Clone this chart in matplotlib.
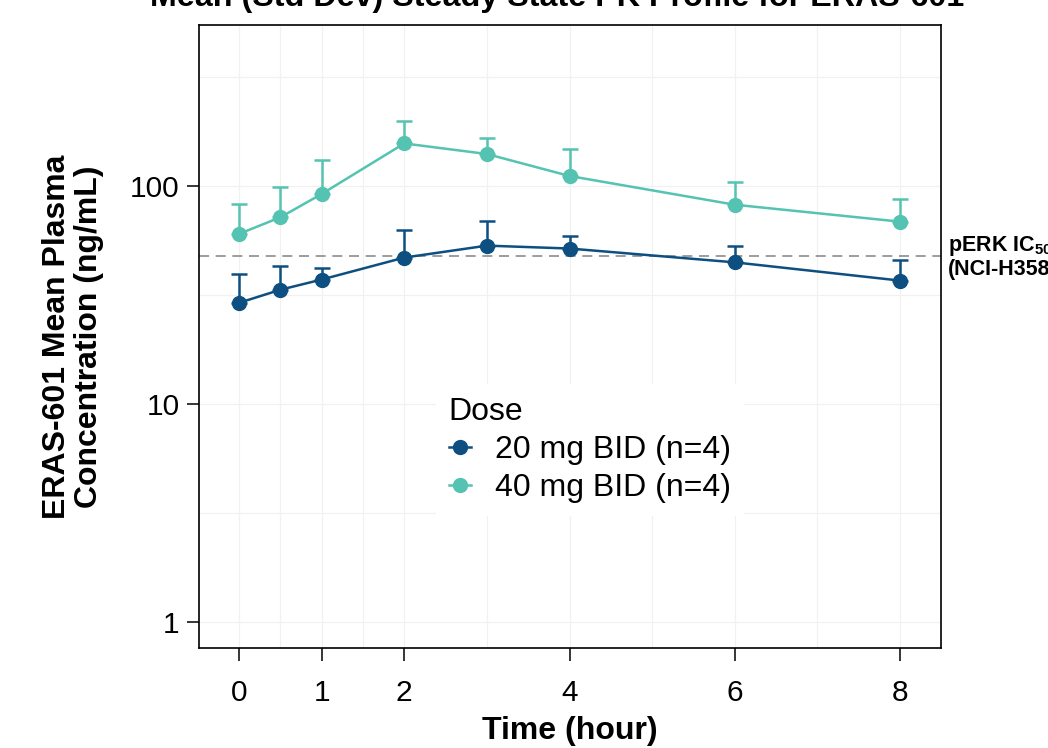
import matplotlib
matplotlib.use("Agg")
import matplotlib.pyplot as plt
import numpy as np
from matplotlib.ticker import FixedLocator, NullFormatter

plt.rcParams['font.family'] = ['Liberation Sans', 'DejaVu Sans']
plt.rcParams['mathtext.fontset'] = 'custom'
plt.rcParams['mathtext.rm'] = 'Liberation Sans'
plt.rcParams['mathtext.bf'] = 'Liberation Sans:bold'

# ---- data ----
time_h = [0, 0.5, 1, 2, 3, 4, 6, 8]
dose_labels = ["20 mg BID (n=4)", "40 mg BID (n=4)"]
mean_20 = [29.1, 33.4, 37.2, 46.9, 53.2, 51.6, 44.6, 36.8]
sd_20 = [10.4, 9.7, 5.0, 16.1, 16.0, 7.4, 8.4, 8.7]
mean_40 = [60.2, 71.7, 91.7, 156.3, 139.8, 110.9, 81.9, 68.5]
sd_40 = [22.4, 26.6, 39.5, 40.7, 26.2, 36.4, 22.5, 18.1]
ic50_value = 47.5
x_ticks = [0, 1, 2, 4, 6, 8]
x_minor = [0.5, 1.5, 3, 5, 7]
y_ticks = [1, 10, 100]
y_tick_labels = ["1", "10", "100"]
y_minor = [10 ** 0.5, 10 ** 1.5, 10 ** 2.5]

colors = ["#0D4F80", "#55C3B1"]

W, H = 1048, 748
fig = plt.figure(figsize=(W / 100, H / 100), dpi=100)
ax = fig.add_axes([199 / W, 1 - 648 / H, (941 - 199) / W, (648 - 25) / H])

ax.set_yscale('log')
ax.set_xlim(-0.484, 8.496)
ax.set_ylim(0.764, 545)

# grid
ax.xaxis.set_major_locator(FixedLocator(x_ticks))
ax.xaxis.set_minor_locator(FixedLocator(x_minor))
ax.yaxis.set_major_locator(FixedLocator(y_ticks))
ax.yaxis.set_minor_locator(FixedLocator(y_minor))
ax.yaxis.set_minor_formatter(NullFormatter())
ax.set_xticklabels([str(t) for t in x_ticks])
ax.set_yticklabels(y_tick_labels)
ax.grid(True, which='both', color='#F1F1F1', lw=0.9, zorder=0)
ax.set_axisbelow(True)

ax.tick_params(which='major', direction='out', length=9, width=1.1, labelsize=21.5,
               pad=5, color='black')
ax.tick_params(which='minor', length=0)
ax.tick_params(axis='x', pad=13)
for sp in ax.spines.values():
    sp.set_linewidth(1.2)
    sp.set_color('black')

# reference line
ax.axhline(ic50_value, color='#8C8C8C', lw=1.2, ls=(0, (6, 4)), zorder=1)

handles = []
for mean, sd, col, lab in [(mean_20, sd_20, colors[0], dose_labels[0]),
                           (mean_40, sd_40, colors[1], dose_labels[1])]:
    ax.errorbar(time_h, mean, yerr=[np.zeros(len(sd)), sd], fmt='none',
                ecolor=col, elinewidth=1.8, capsize=6, capthick=1.8, zorder=2)
    h, = ax.plot(time_h, mean, '-o', color=col, lw=1.8, ms=10, label=lab, zorder=3)
    handles.append(h)

leg = ax.legend(handles=handles, title='Dose', loc='upper left',
                bbox_to_anchor=(420 / W, 1 - 368 / H), bbox_transform=fig.transFigure,
                frameon=True, facecolor='white', edgecolor='none', framealpha=1,
                fontsize=23, title_fontsize=23, handlelength=0.7, handletextpad=0.75,
                labelspacing=0.25, borderpad=0.4, alignment='left', fancybox=False)

# annotation
fig.text(948 / W, 1 - 246 / H, r'pERK IC$_{\mathbf{50}}$', fontsize=15.5, fontweight='bold',
         ha='left', va='center')
fig.text(948 / W, 1 - 270 / H, '(NCI-H358)', fontsize=15.5, fontweight='bold',
         ha='left', va='center')

# labels
fig.text(570 / W, 1 - 731 / H, 'Time (hour)', fontsize=23, fontweight='bold',
         ha='center', va='center')
fig.text(73 / W, 1 - 337 / H, 'ERAS-601 Mean Plasma\nConcentration (ng/mL)', fontsize=23,
         fontweight='bold', ha='center', va='center', rotation=90, multialignment='center',
         linespacing=1.05)
fig.text(557 / W, 1 - 6 / H, 'Mean (Std Dev) Steady State PK Profile for ERAS-601',
         fontsize=23.2, fontweight='bold', ha='center', va='baseline')

fig.savefig('out.png', dpi=100)
